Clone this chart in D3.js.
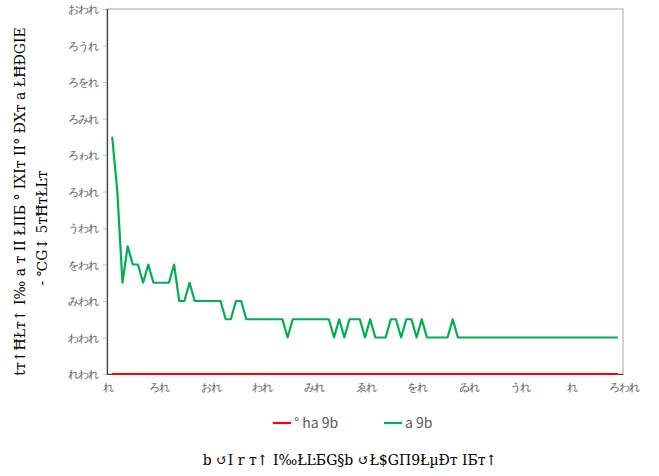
<!DOCTYPE html>
<html lang="ja">
<head>
<meta charset="utf-8" />
<title>chart</title>
<style>
  body{margin:0;background:#fff;}
  svg{display:block;font-family:"Noto Sans CJK JP","DejaVu Sans",sans-serif;}
  .tick text{fill:#595959;font-size:11px;letter-spacing:-1px;}
  .axis-title{fill:#000;font-size:14px;font-family:"DejaVu Serif",serif;}
  .legend text{fill:#595959;font-size:14px;}
</style>
<script src="https://cdn.jsdelivr.net/npm/d3@7.9.0/dist/d3.min.js"></script>
</head>
<body>
<div id="chart"></div>
<script>
/* ───────── DATA ───────── */
const xVals = [1,2,3,4,5,6,7,8,9,10,11,12,13,14,15,16,17,18,19,20,21,22,23,24,25,26,27,28,29,30,
  31,32,33,34,35,36,37,38,39,40,41,42,43,44,45,46,47,48,49,50,51,52,53,54,55,56,57,58,59,60,
  61,62,63,64,65,66,67,68,69,70,71,72,73,74,75,76,77,78,79,80,81,82,83,84,85,86,87,88,89,90,
  91,92,93,94,95,96,97,98,99];
const greenVals = [6.5,5,2.5,3.5,3,3,2.5,3,2.5,2.5,2.5,2.5,3,2,2,2.5,2,2,2,2,2,2,1.5,1.5,2,2,1.5,1.5,1.5,1.5,
  1.5,1.5,1.5,1.5,1,1.5,1.5,1.5,1.5,1.5,1.5,1.5,1.5,1,1.5,1,1.5,1.5,1.5,1,1.5,1,1,1,1.5,1.5,1,1.5,1.5,1,
  1.5,1,1,1,1,1,1.5,1,1,1,1,1,1,1,1,1,1,1,1,1,1,1,1,1,1,1,1,1,1,1,
  1,1,1,1,1,1,1,1,1];
const redVals = [0,0,0,0,0,0,0,0,0,0,0,0,0,0,0,0,0,0,0,0,0,0,0,0,0,0,0,0,0,0,
  0,0,0,0,0,0,0,0,0,0,0,0,0,0,0,0,0,0,0,0,0,0,0,0,0,0,0,0,0,0,
  0,0,0,0,0,0,0,0,0,0,0,0,0,0,0,0,0,0,0,0,0,0,0,0,0,0,0,0,0,0,
  0,0,0,0,0,0,0,0,0];

const yTicks = [0,1,2,3,4,5,6,7,8,9,10];
const yTickLabels = ["れわれ","わわれ","みわれ","をわれ","うわれ","ろわれ","ろゎれ","ろみれ","ろをれ","ろうれ","おわれ"];
const xTicks = [0,10,20,30,40,50,60,70,80,90,100];
const xTickLabels = ["れ","ろれ","おれ","われ","みれ","ゑれ","をれ","ゐれ","うれ","れ","ろわれ"];

const seriesNames = ["° ha 9b","a 9b"];
const seriesColors = ["#ff0000","#00b050"];
const xTitle = "b ↺Ι r т↑ Ι‰ŁĿƂG§b ↺Ł$GΠ9ŁµĐт ΙƂт↑";
const yTitle1 = "tт↑ĦŁт↑ Ι‰ a т ΙΙ ŁΙΙƂ ° ΙΧΙт ΙΙ° ĐΧт a ŁĦĐGΙE";
const yTitle2 = "- ℃G↕ 5тĦтŁĿт";

/* ───────── LAYOUT ───────── */
const W = 659, H = 476;
const M = {top:9,right:36,bottom:102,left:107};

const svg = d3.select('#chart').append('svg')
  .attr('width',W).attr('height',H);

const x = d3.scaleLinear([0,100],[M.left,W-M.right]);
const y = d3.scaleLinear([0,10],[H-M.bottom,M.top]);

/* plot frame (top/right) */
svg.append('rect')
  .attr('x',x(0)).attr('y',y(10))
  .attr('width',x(100)-x(0)).attr('height',y(0)-y(10))
  .attr('fill','none').attr('stroke','#a6a6a6').attr('stroke-width',1);

/* axes */
const yAxis = d3.axisLeft(y).tickValues(yTicks).tickSize(4).tickPadding(5)
  .tickFormat((d,i)=>yTickLabels[i]);
const yG = svg.append('g').attr('transform',`translate(${x(0)},0)`).call(yAxis);
yG.select('.domain').attr('stroke','#404040').attr('stroke-width',1.2);
yG.selectAll('.tick line').attr('stroke','#bfbfbf');

const xAxis = d3.axisBottom(x).tickValues(xTicks).tickSize(0).tickPadding(9)
  .tickFormat((d,i)=>xTickLabels[i]);
const xG = svg.append('g').attr('transform',`translate(0,${y(0)})`).call(xAxis);
xG.select('.domain').attr('stroke','#404040').attr('stroke-width',1.2);

/* lines */
const line = vals => d3.line().x((d,i)=>x(xVals[i])).y(d=>y(d))(vals);
svg.append('path').attr('d',line(redVals))
  .attr('fill','none').attr('stroke',seriesColors[0]).attr('stroke-width',2.2);
svg.append('path').attr('d',line(greenVals))
  .attr('fill','none').attr('stroke',seriesColors[1]).attr('stroke-width',2.2)
  .attr('stroke-linejoin','round');

/* legend */
const legend = svg.append('g').attr('class','legend');
const legX = [273,384], legY = 423;
seriesNames.forEach((name,i)=>{
  legend.append('line')
    .attr('x1',legX[i]).attr('x2',legX[i]+18)
    .attr('y1',legY).attr('y2',legY)
    .attr('stroke',seriesColors[i]).attr('stroke-width',2.2);
  legend.append('text')
    .attr('x',legX[i]+21).attr('y',legY).attr('dy','0.35em')
    .text(name);
});

/* axis titles */
svg.append('text').attr('class','axis-title')
  .attr('x',350).attr('y',460).attr('dy','0.35em')
  .attr('text-anchor','middle').text(xTitle);

svg.append('text').attr('class','axis-title')
  .attr('transform',`translate(20,${(M.top+y(0))/2+10}) rotate(-90)`)
  .attr('text-anchor','middle').attr('dy','0.35em').text(yTitle1);
svg.append('text').attr('class','axis-title')
  .attr('transform',`translate(42,228) rotate(-90)`)
  .attr('text-anchor','middle').attr('dy','0.35em').text(yTitle2);
</script>
</body>
</html>
